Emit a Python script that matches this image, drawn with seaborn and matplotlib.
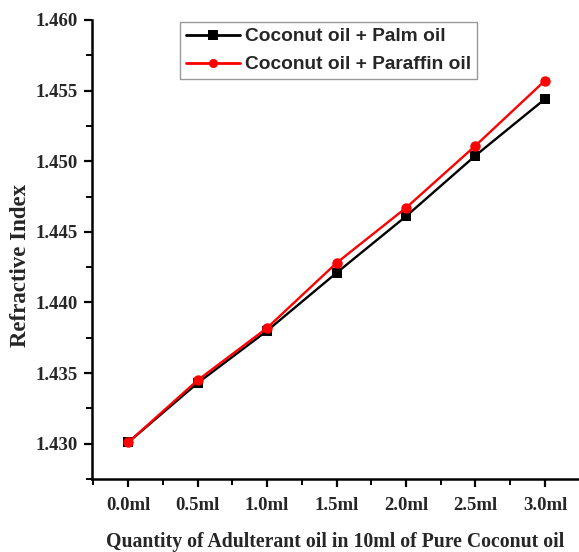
import matplotlib
matplotlib.use("Agg")
import matplotlib.pyplot as plt
import seaborn as sns
import pandas as pd
from matplotlib.ticker import MultipleLocator, FuncFormatter

quantity = [0.0, 0.5, 1.0, 1.5, 2.0, 2.5, 3.0]
palm = [1.4301, 1.4343, 1.4380, 1.4421, 1.4461, 1.4504, 1.4544]
paraffin = [1.4301, 1.4345, 1.4382, 1.4428, 1.4467, 1.4511, 1.4557]
series_names = ["Coconut oil + Palm oil", "Coconut oil + Paraffin oil"]

df = pd.DataFrame({
    "q": quantity * 2,
    "ri": palm + paraffin,
    "series": [series_names[0]] * len(quantity) + [series_names[1]] * len(quantity),
})

sns.set_theme(style="white")
plt.rcParams["font.family"] = ["Liberation Serif", "DejaVu Serif"]

fig = plt.figure(figsize=(5.79, 5.52), dpi=100)
ax = fig.add_axes([0.159, 0.132, 0.841, 0.832])

sns.lineplot(data=df, x="q", y="ri", hue="series", style="series",
             hue_order=series_names, style_order=series_names,
             palette=["black", "red"], markers=["s", "o"], dashes=False,
             linewidth=1.7, markersize=7.5, markeredgewidth=0, ax=ax)

ax.set_xlim(-0.26, 3.245)
ax.set_ylim(1.4275, 1.460)
ax.xaxis.set_major_locator(MultipleLocator(0.5))
ax.xaxis.set_minor_locator(MultipleLocator(0.25))
ax.yaxis.set_major_locator(MultipleLocator(0.005))
ax.yaxis.set_minor_locator(MultipleLocator(0.0025))
ax.xaxis.set_major_formatter(FuncFormatter(lambda v, p: f"{v:.1f}ml"))
ax.yaxis.set_major_formatter(FuncFormatter(lambda v, p: f"{v:.3f}"))

for s in ["top", "right"]:
    ax.spines[s].set_visible(False)
for s in ["left", "bottom"]:
    ax.spines[s].set_color("black")
    ax.spines[s].set_linewidth(1.8)

ax.tick_params(axis="both", which="major", direction="out", length=6, width=1.6,
               color="black", labelsize=13.5, bottom=True, left=True, pad=4)
ax.tick_params(axis="both", which="minor", direction="out", length=4, width=1.4,
               color="black", bottom=True, left=True)
for lab in ax.get_xticklabels() + ax.get_yticklabels():
    lab.set_fontweight("bold")
ax.tick_params(axis="x", which="major", pad=7)

ax.set_xlabel("Quantity of Adulterant oil in 10ml of Pure Coconut oil",
              fontsize=14.2, fontweight="bold", labelpad=13)
ax.set_ylabel("Refractive Index", fontsize=16.5, fontweight="bold")
ax.yaxis.set_label_coords(-0.125, 0.466)

leg = ax.legend(loc="upper left", bbox_to_anchor=(0.181, 0.995), borderaxespad=0,
                frameon=True, fancybox=False, edgecolor="#808080",
                prop={"family": ["Liberation Sans", "DejaVu Sans"], "weight": "bold", "size": 13.8},
                handlelength=2.8, handletextpad=0.3, borderpad=0.3, labelspacing=0.55)
leg.get_frame().set_linewidth(1.0)
for h in leg.get_lines():
    h.set_linewidth(2.0)
    h.set_markersize(6.5)

fig.savefig("out.png", dpi=100)
